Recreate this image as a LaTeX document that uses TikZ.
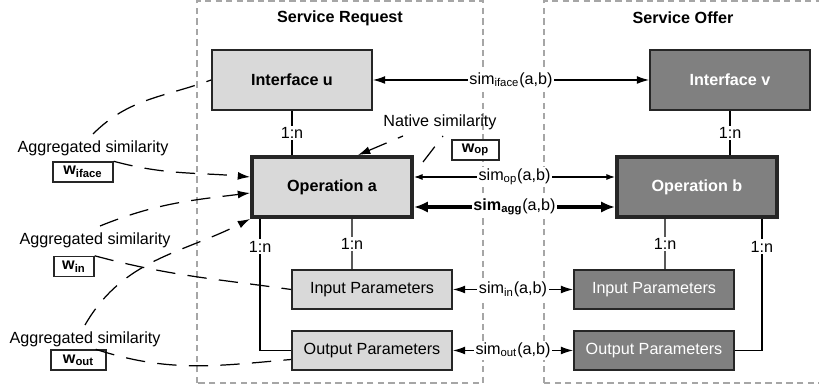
\documentclass[tikz,border=0pt]{standalone}
\usepackage{fontspec}
\setmainfont{Liberation Sans}
\usetikzlibrary{arrows.meta}
\definecolor{reqgray}{HTML}{D9D9D9}
\definecolor{offgray}{HTML}{808080}
\definecolor{framegray}{HTML}{A6A6A6}
\begin{document}
\begin{tikzpicture}[x=.02cm,y=.02cm,>={Latex[length=7pt,width=4.5pt]},
  font=\fontsize{9.2}{11}\selectfont,line width=.7pt,
  srvframe/.style={draw=framegray,line width=.8pt,dash pattern=on 3.6pt off 2.4pt},
  title/.style={font=\fontsize{9.2}{11}\selectfont\bfseries},
  entity/.style={draw=black!85,line width=1pt,minimum width=3.2cm,minimum height=1.2cm,font=\fontsize{9.2}{11}\selectfont\bfseries},
  param/.style={draw=black!85,line width=1pt,minimum width=3.2cm,minimum height=.78cm},
  req/.style={fill=reqgray},
  offer/.style={fill=offgray,text=white},
  card/.style={fill=white,inner sep=1pt},
  sim/.style={fill=white,inner sep=1pt},
  wbox/.style={draw=black!85,line width=.8pt,fill=white,minimum height=.4cm,inner sep=1pt,font=\fontsize{9.2}{11}\selectfont\bfseries},
  aggline/.style={dash pattern=on 11pt off 7pt},
  smalltip/.style={{Latex[length=5pt,width=3.5pt]}-{Latex[length=5pt,width=3.5pt]}},
  aggtip/.style={line width=1.8pt,{Latex[length=8pt,width=6.5pt]}-{Latex[length=8pt,width=6.5pt]}}]
\useasboundingbox (0,0) rectangle (819,388);

% the two sides
\draw[srvframe] (197,5) rectangle (483,387);
\draw[srvframe] (544,5) rectangle (824,387);
\node[title] (req) at (340,370) {Service Request};
\node[title] (off) at (683,370) {Service Offer};

\node[entity,req] (ifu) at (292,308) {Interface u};
\node[entity,offer] (ifv) at (730,308) {Interface v};
\node[entity,req,line width=2.2pt] (opa) at (332,201) {Operation a};
\node[entity,offer,line width=2.2pt] (opb) at (697,201) {Operation b};
\node[param,req] (ina) at (372,98.5) {Input Parameters};
\node[param,req] (outa) at (372,37.5) {Output Parameters};
\node[param,offer] (inb) at (654,98.5) {Input Parameters};
\node[param,offer] (outb) at (654,37.5) {Output Parameters};

% 1:n links
\draw (ifu.south) -- node[card]{1:n} (ifu.south |- opa.north);
\draw (ifv.south) -- node[card]{1:n} (ifv.south |- opb.north);
\draw ([xshift=.4cm]opa.south) -- node[card]{1:n} ([xshift=-.4cm]ina.north);
\draw ([xshift=.2cm]opa.south west) |- node[card,pos=.105]{1:n} (outa.west);
\draw ([xshift=-.64cm]opb.south) -- node[card]{1:n} ([xshift=.22cm]inb.north);
\draw ([xshift=-.34cm]opb.south east) |- node[card,pos=.105]{1:n} (outb.east);

% similarities
\draw[<->] (ifu.east) -- node[sim]{sim\textsubscript{iface}(a,b)} (ifv.west);
\draw[smalltip] ([yshift=.2cm]opa.east) -- node[sim]{sim\textsubscript{op}(a,b)} ([yshift=.2cm]opb.west);
\draw[aggtip] ([yshift=-.4cm]opa.east) -- node[sim]{\textbf{sim\textsubscript{agg}}(a,b)} ([yshift=-.4cm]opb.west);
\draw[<->] (ina) -- node[sim]{sim\textsubscript{in}(a,b)} (inb);
\draw[<->] (outa) -- node[sim]{sim\textsubscript{out}(a,b)} (outb);

% weights
\node (ag1) at (93,240) {Aggregated similarity};
\node (ag2) at (95,148) {Aggregated similarity};
\node (ag3) at (85,49) {Aggregated similarity};
\node[wbox,minimum width=1.2cm] (wif) at (83,216) {w\textsubscript{iface}};
\node[wbox,minimum width=.8cm] (win) at (74,121.5) {w\textsubscript{in}};
\node[wbox,minimum width=1.1cm] (wout) at (78.5,28) {w\textsubscript{out}};
\node[wbox,minimum width=.94cm] (wop) at (475.5,238) {w\textsubscript{op}};
\node (nat) at (440,266) {Native similarity};

\draw[aggline] (ag1.north) to[out=45,in=200] (ifu.west);
\draw[aggline,->] (wif.north east) to[out=-15,in=175] ([yshift=.2cm]opa.west);
\draw[aggline,->] ([xshift=.1cm]ag2.north) to[out=22,in=187] ([yshift=-.12cm]opa.west);
\draw[aggline] (win.north east) to[out=-15,in=172] (ina.west);
\draw[aggline,->] (ag3.north) to[out=60,in=207] (opa.south west);
\draw[aggline] ([xshift=-.22cm]wout.north east) to[out=-18,in=185] ([yshift=-.18cm]outa.west);
\draw[aggline,<-] ([xshift=.52cm]opa.north) -- ([xshift=-.74cm]nat.south);
\coordinate (natend) at (423,226);
\draw[aggline] (natend) -- ([xshift=.06cm]nat.south);

\end{tikzpicture}
\end{document}
